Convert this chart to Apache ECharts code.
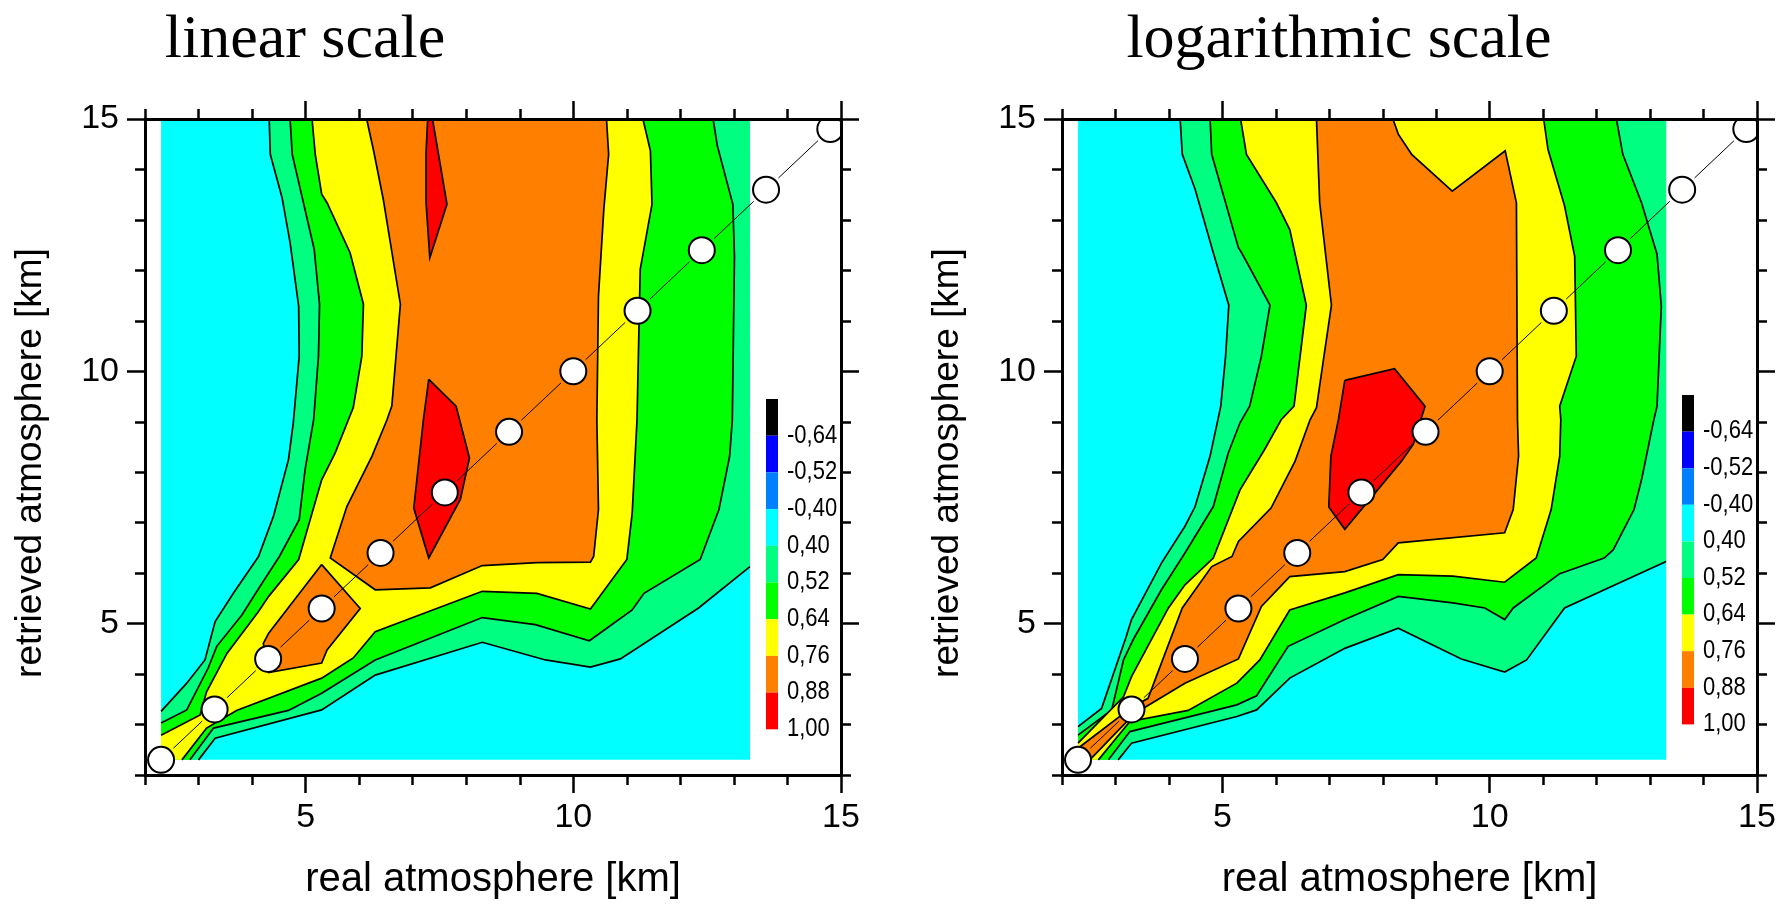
<!DOCTYPE html>
<html>
<head>
<meta charset="utf-8">
<title>linear / logarithmic scale</title>
<script src="https://cdn.jsdelivr.net/npm/echarts@6.0.0/dist/echarts.min.js"></script>
<style>
  html, body { margin: 0; padding: 0; background: #fff; }
  #chart { width: 1783px; height: 906px; }
</style>
</head>
<body>
<div id="chart"></div>
<script>
// retrieval grid altitudes (km), shown as the circles on the diagonal
var altitudes = [2.3, 3.3, 4.3, 5.3, 6.4, 7.6, 8.8, 10.0, 11.2, 12.4, 13.6, 14.8];
// extent of the contoured data
var domainX = [2.3, 13.3];
var domainY = [2.3, 15];

var levelColors = ['#00ff80', '#00ff00', '#ffff00', '#ff8000', '#ff0000']; // > 0.40 .. > 0.88
var belowColor = '#00ffff';

var scaleColors = ['#000000', '#0000ff', '#0080ff', '#00ffff', '#00ff80', '#00ff00', '#ffff00', '#ff8000', '#ff0000'];
var scaleLabels = ['-0,64', '-0,52', '-0,40', '0,40', '0,52', '0,64', '0,76', '0,88', '1,00'];
var majorTicks = [5, 10, 15];

// ---- linear scale: contour regions (real km, retrieved km) ----
var linC40 = [[4.32,15],[4.34,14.30],[4.56,13.44],[4.71,12.55],[4.87,11.29],[4.88,10.30],[4.77,8.98],[4.68,8.25],[4.40,7.13],[4.12,6.33],[3.65,5.60],[3.31,5.04],[3.12,4.28],[2.78,3.82],[2.3,3.26],[2.3,2.3],[3.0,2.3],[3.31,2.73],[5.30,3.29],[6.30,3.98],[8.30,4.63],[9.48,4.28],[10.32,4.14],[10.88,4.30],[12.34,5.31],[13.3,6.13],[13.3,15]];
var linC52 = [[4.71,15],[4.75,14.30],[5.16,12.42],[5.26,11.33],[5.24,10.30],[5.15,9.04],[4.99,8.05],[4.88,7.06],[4.51,6.33],[4.15,5.74],[3.81,5.17],[3.34,4.55],[3.18,4.12],[2.78,3.29],[2.3,3.03],[2.3,2.3],[2.84,2.3],[3.28,2.93],[4.68,3.28],[5.30,3.62],[6.30,4.28],[8.30,5.12],[9.29,4.98],[10.30,4.66],[11.10,5.27],[11.32,5.60],[12.37,6.27],[12.72,7.26],[12.92,8.32],[12.97,9.04],[13.01,12.28],[12.98,13.31],[12.69,14.47],[12.61,15]];
var linC64 = [[5.12,15],[5.18,14.30],[5.30,13.51],[5.40,13.34],[5.83,12.35],[6.08,11.33],[6.05,10.30],[5.89,9.28],[5.55,8.38],[5.30,7.85],[4.87,6.27],[4.31,5.54],[4.12,5.24],[3.53,4.41],[3.15,3.65],[3.03,3.19],[2.3,2.79],[2.3,2.3],[2.69,2.3],[3.15,2.93],[3.71,3.28],[5.30,3.92],[5.89,4.32],[6.30,4.84],[8.30,5.64],[9.32,5.60],[10.32,5.29],[11.0,6.27],[11.10,7.19],[11.19,9.04],[11.25,12.02],[11.47,13.31],[11.44,14.37],[11.30,15]];
var linC76a = [[6.14,15],[6.27,14.37],[6.45,13.41],[6.77,11.33],[6.61,9.31],[6.52,9.04],[6.24,8.32],[5.77,7.32],[5.46,6.30],[6.30,5.67],[7.33,5.71],[8.30,6.15],[9.32,6.21],[10.32,6.22],[10.38,6.33],[10.47,7.26],[10.44,9.04],[10.47,11.49],[10.57,13.21],[10.66,14.30],[10.62,15]];
var linC76b = [[5.30,6.17],[6.02,5.30],[5.40,4.48],[5.30,4.22],[4.31,4.03],[4.21,4.61],[4.31,4.81]];
var linC88a = [[7.28,15],[7.37,15],[7.64,13.31],[7.32,12.25],[7.25,13.34],[7.25,14.34]];
var linC88b = [[7.30,9.84],[7.81,9.31],[8.06,8.28],[7.89,7.46],[7.30,6.30],[7.02,7.29],[7.20,9.04]];

// ---- logarithmic scale ----
var logC40 = [[4.21,15],[4.25,14.30],[4.49,13.61],[4.83,12.35],[5.12,11.31],[5.06,10.30],[4.97,9.31],[4.77,8.32],[4.49,7.32],[4.30,6.93],[3.86,6.20],[3.30,5.08],[3.20,4.74],[2.74,3.32],[2.3,2.96],[2.3,2.3],[3.05,2.3],[3.30,2.63],[5.27,3.16],[5.64,3.29],[6.26,3.92],[7.29,4.51],[8.29,4.91],[9.47,4.30],[10.28,4.04],[10.69,4.28],[11.40,5.31],[13.3,6.23],[13.3,15]];
var logC52 = [[4.77,15],[4.80,14.30],[5.30,12.45],[5.36,12.35],[5.89,11.31],[5.73,10.30],[5.51,9.31],[5.33,8.98],[5.11,8.38],[4.83,7.32],[4.30,6.40],[3.86,5.67],[3.33,4.68],[3.15,4.28],[2.93,3.29],[2.3,2.79],[2.3,2.3],[2.87,2.3],[3.27,2.86],[5.27,3.39],[5.64,3.57],[6.23,4.55],[7.29,5.08],[8.29,5.54],[9.31,5.41],[9.91,5.31],[10.28,5.08],[10.44,5.31],[11.31,5.99],[12.14,6.30],[12.31,6.46],[12.70,7.26],[12.84,7.85],[13.07,9.04],[13.13,9.31],[13.21,11.29],[13.13,12.32],[12.84,13.34],[12.49,14.30],[12.37,15]];
var logC64 = [[5.34,15],[5.45,14.30],[6.01,13.34],[6.26,12.81],[6.57,11.31],[6.34,9.31],[6.10,9.04],[5.79,8.45],[5.33,7.65],[4.83,6.30],[4.30,5.77],[3.99,5.31],[3.30,3.95],[3.15,3.55],[2.3,2.63],[2.3,2.3],[2.68,2.3],[3.27,3.06],[4.36,3.28],[5.27,3.82],[5.70,4.28],[6.26,5.27],[7.29,5.61],[8.29,5.97],[9.31,5.94],[10.28,5.82],[10.87,6.30],[11.15,7.26],[11.31,8.32],[11.33,9.04],[11.31,9.31],[11.62,10.30],[11.59,12.28],[11.40,13.28],[11.09,14.40],[11.01,15]];
var logC76 = [[6.76,15],[6.82,13.34],[7.04,11.31],[6.90,10.30],[6.76,9.28],[6.64,9.04],[6.36,8.22],[5.91,7.29],[5.30,6.63],[5.18,6.33],[4.80,6.13],[4.25,5.31],[3.61,3.52],[3.30,3.34],[2.3,2.53],[2.3,2.3],[2.52,2.3],[3.36,3.22],[4.30,3.82],[5.30,4.30],[5.73,5.34],[6.26,5.93],[7.29,6.03],[8.0,6.27],[8.29,6.60],[10.28,6.80],[10.44,7.26],[10.54,8.32],[10.52,9.04],[10.50,13.34],[10.29,14.37],[9.30,13.57],[8.54,14.30],[8.29,14.70],[8.19,15]];
var logC88 = [[7.29,9.82],[8.22,10.05],[8.79,9.31],[8.57,8.55],[8.35,8.22],[7.29,6.87],[6.99,7.31],[7.03,8.32],[7.17,9.04]];

var domainRect = [[domainX[0], domainY[0]], [domainX[1], domainY[0]], [domainX[1], domainY[1]], [domainX[0], domainY[1]]];

var linShapes = [
  { pts: domainRect, color: belowColor, stroke: false },
  { pts: linC40, color: levelColors[0], stroke: true },
  { pts: linC52, color: levelColors[1], stroke: true },
  { pts: linC64, color: levelColors[2], stroke: true },
  { pts: linC76a, color: levelColors[3], stroke: true },
  { pts: linC76b, color: levelColors[3], stroke: true },
  { pts: linC88a, color: levelColors[4], stroke: true },
  { pts: linC88b, color: levelColors[4], stroke: true }
];
var logShapes = [
  { pts: domainRect, color: belowColor, stroke: false },
  { pts: logC40, color: levelColors[0], stroke: true },
  { pts: logC52, color: levelColors[1], stroke: true },
  { pts: logC64, color: levelColors[2], stroke: true },
  { pts: logC76, color: levelColors[3], stroke: true },
  { pts: logC88, color: levelColors[4], stroke: true }
];

// edges lying on the data border get no contour line
function onBorder(a, b) {
  var t = 0.02;
  if (Math.abs(a[0] - b[0]) < t && (Math.abs(a[0] - domainX[0]) < t || Math.abs(a[0] - domainX[1]) < t)) return true;
  if (Math.abs(a[1] - b[1]) < t && (Math.abs(a[1] - domainY[0]) < t || Math.abs(a[1] - domainY[1]) < t)) return true;
  return false;
}

function isoLines(pts) {
  var n = pts.length, start = -1;
  for (var i = 0; i < n; i++) {
    if (onBorder(pts[(i + n - 1) % n], pts[i])) { start = i; break; }
  }
  if (start < 0) return [pts.concat([pts[0]])];
  var out = [], cur = [pts[start]];
  for (var k = 0; k < n; k++) {
    var a = pts[(start + k) % n], b = pts[(start + k + 1) % n];
    if (onBorder(a, b)) {
      if (cur.length > 1) out.push(cur);
      cur = [b];
    } else {
      cur.push(b);
    }
  }
  if (cur.length > 1) out.push(cur);
  return out;
}

function contourSeries(g, shapes) {
  return {
    type: 'custom',
    coordinateSystem: 'cartesian2d',
    xAxisIndex: g * 4, yAxisIndex: g * 4,
    silent: true, clip: false, z: 2,
    data: shapes.map(function (s) { return s.pts[0]; }),
    renderItem: function (params, api) {
      var s = shapes[params.dataIndex];
      var children = [{
        type: 'polygon',
        shape: { points: s.pts.map(function (p) { return api.coord(p); }) },
        style: { fill: s.color }
      }];
      if (s.stroke) {
        isoLines(s.pts).forEach(function (line) {
          children.push({
            type: 'polyline',
            shape: { points: line.map(function (p) { return api.coord(p); }) },
            style: { stroke: '#000', lineWidth: 1.7, fill: null }
          });
        });
      }
      return { type: 'group', children: children };
    }
  };
}

// circles on the 1:1 line, joined by a thin line that stops short of each circle
function diagonalSeries(g) {
  return {
    type: 'custom',
    coordinateSystem: 'cartesian2d',
    xAxisIndex: g * 4, yAxisIndex: g * 4,
    silent: true, clip: true, z: 5,
    data: altitudes.map(function (a) { return [a, a]; }),
    renderItem: function (params, api) {
      var i = params.dataIndex, r = 13;
      var p = api.coord([altitudes[i], altitudes[i]]);
      var children = [];
      if (i + 1 < altitudes.length) {
        var q = api.coord([altitudes[i + 1], altitudes[i + 1]]);
        var dx = q[0] - p[0], dy = q[1] - p[1];
        var len = Math.sqrt(dx * dx + dy * dy), gap = r + 4;
        var ux = dx / len, uy = dy / len;
        children.push({
          type: 'line',
          shape: { x1: p[0] + ux * gap, y1: p[1] + uy * gap, x2: q[0] - ux * gap, y2: q[1] - uy * gap },
          style: { stroke: '#000', lineWidth: 1 }
        });
      }
      children.push({ type: 'circle', shape: { cx: p[0], cy: p[1], r: r }, style: { fill: '#fff', stroke: '#000', lineWidth: 2 } });
      return { type: 'group', children: children };
    }
  };
}

var sansFont = '"Liberation Sans", Arial, sans-serif';
var axisLine = { show: true, onZero: false, lineStyle: { color: '#000', width: 3 } };
var tickStyle = { color: '#000', width: 2.5 };

function axisPair(g, pos, withLabels, name, gap) {
  var minor = {
    type: 'value', gridIndex: g, position: pos, min: 2, max: 15, interval: 1, z: 10,
    splitLine: { show: false }, axisLine: axisLine,
    axisTick: { show: true, length: 10, lineStyle: tickStyle },
    axisLabel: { show: false }
  };
  var major = {
    type: 'value', gridIndex: g, position: pos, min: 2, max: 15, interval: 1, z: 10,
    splitLine: { show: false }, axisLine: { show: false, onZero: false },
    axisTick: { show: true, length: 18, customValues: majorTicks, lineStyle: tickStyle },
    axisLabel: withLabels
      ? { show: true, customValues: majorTicks, margin: 26, color: '#000', fontSize: 34, fontFamily: sansFont }
      : { show: false }
  };
  if (name) {
    major.name = name;
    major.nameLocation = 'middle';
    major.nameGap = gap;
    major.nameMoveOverlap = false;
    major.nameTextStyle = { color: '#000', fontSize: 40, fontFamily: sansFont };
  }
  return [minor, major];
}

// per grid: [bottom, bottomMajor, top, topMajor] and [left, leftMajor, right, rightMajor]
function xAxesFor(g) {
  return axisPair(g, 'bottom', true, 'real atmosphere [km]', 85).concat(axisPair(g, 'top', false));
}
function yAxesFor(g) {
  return axisPair(g, 'left', true).concat(axisPair(g, 'right', false));
}

function colorBar(x, top, h) {
  var els = [];
  scaleColors.forEach(function (c, i) {
    els.push({ type: 'rect', shape: { x: x, y: top + i * h, width: 12, height: h }, style: { fill: c } });
    els.push({
      type: 'text', x: x + 21, y: top + (i + 1) * h, scaleX: 0.88,
      style: { text: scaleLabels[i], font: '25px ' + sansFont, fill: '#000', align: 'left', verticalAlign: 'middle' }
    });
  });
  return els;
}

// y-axis title sits a little below the middle of the axis in the original
function yTitle(x) {
  return {
    type: 'text', x: x, y: 463, rotation: Math.PI / 2,
    style: { text: 'retrieved atmosphere [km]', font: '37px ' + sansFont, fill: '#000', align: 'center', verticalAlign: 'middle' }
  };
}

var titleFont = '62px "Liberation Serif", "Times New Roman", serif';
var chart = echarts.init(document.getElementById('chart'));

chart.setOption({
  animation: false,
  backgroundColor: '#fff',
  grid: [
    { left: 145, top: 119, width: 696, height: 656 },
    { left: 1062, top: 119, width: 695, height: 656 }
  ],
  xAxis: xAxesFor(0).concat(xAxesFor(1)),
  yAxis: yAxesFor(0).concat(yAxesFor(1)),
  series: [
    contourSeries(0, linShapes), diagonalSeries(0),
    contourSeries(1, logShapes), diagonalSeries(1)
  ],
  graphic: [
    { type: 'text', x: 305, y: 41, style: { text: 'linear scale', font: titleFont, fill: '#000', align: 'center', verticalAlign: 'middle' } },
    { type: 'text', x: 1339, y: 41, style: { text: 'logarithmic scale', font: titleFont, fill: '#000', align: 'center', verticalAlign: 'middle' } },
    yTitle(31),
    yTitle(948)
  ].concat(colorBar(766, 399, 36.7)).concat(colorBar(1682, 395, 36.6))
});
</script>
</body>
</html>
